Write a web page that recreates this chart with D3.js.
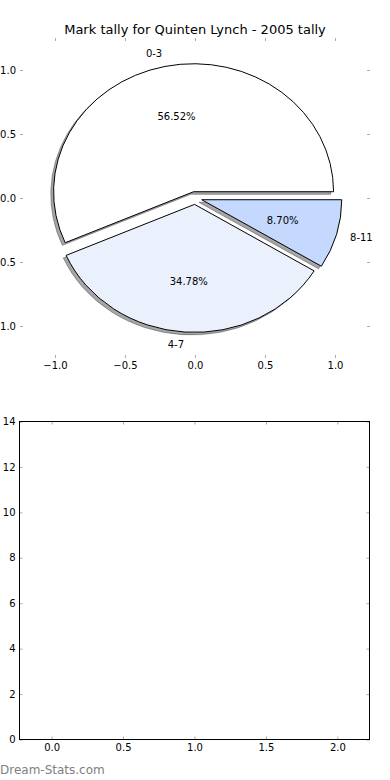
<!DOCTYPE html>
<html>
<head>
<meta charset="utf-8">
<script src="https://cdn.jsdelivr.net/npm/d3@7"></script>
<style>
  body { margin: 0; background: #fff; }
  svg { display: block; font-family: "DejaVu Sans", sans-serif; }
</style>
</head>
<body>
<div class="chart"></div>
<script>
// Data
var categories = ["0-3", "4-7", "8-11"];
var counts = [13, 8, 2];
var sliceColors = ["#ffffff", "#eaf0fc", "#c5d8fd"];
var pieTicks = [-1.0, -0.5, 0.0, 0.5, 1.0];
var barXTicks = [0.0, 0.5, 1.0, 1.5, 2.0];
var barYTicks = [0, 2, 4, 6, 8, 10, 12, 14];
var title = "Mark tally for Quinten Lynch - 2005 tally";

var width = 390, height = 780;
var explode = 0.05, shadowOff = -0.02;

var svg = d3.select(".chart").append("svg")
    .attr("width", width)
    .attr("height", height);

// ---- top: pie ----
var xTop = d3.scaleLinear().domain([-1.25, 1.25]).range([20, 370]);
var yTop = d3.scaleLinear().domain([-1.25, 1.25]).range([358, 38]);
var rx = xTop(1) - xTop(0), ry = yTop(0) - yTop(1);

svg.append("text")
   .attr("x", 195).attr("y", 34)
   .attr("text-anchor", "middle")
   .style("font-size", "13px")
   .text(title);

// counter-clockwise from 3 o'clock, like matplotlib
var pie = d3.pie().sort(null)
    .startAngle(Math.PI / 2)
    .endAngle(Math.PI / 2 - 2 * Math.PI);
var slices = pie(counts);
var total = d3.sum(counts);

var arc = d3.arc().innerRadius(0).outerRadius(rx);

function mid(d) { return (d.startAngle + d.endAngle) / 2; }
function ux(d) { return Math.sin(mid(d)); }
function uy(d) { return Math.cos(mid(d)); }

var pieG = svg.append("g");

// shadows
pieG.selectAll("path.shadow")
  .data(slices)
  .enter().append("path")
  .attr("class", "shadow")
  .attr("d", arc)
  .attr("transform", function(d) {
    return "translate(" + xTop(explode * ux(d) + shadowOff) + "," + yTop(explode * uy(d) + shadowOff) + ") scale(1," + (ry / rx) + ")";
  })
  .attr("fill", "rgb(77,77,77)")
  .attr("fill-opacity", 0.5)
  .attr("stroke", "rgb(77,77,77)")
  .attr("stroke-opacity", 0.5)
  .attr("stroke-width", 1)
  .attr("vector-effect", "non-scaling-stroke");

// wedges
pieG.selectAll("path.wedge")
  .data(slices)
  .enter().append("path")
  .attr("class", "wedge")
  .attr("d", arc)
  .attr("transform", function(d) {
    return "translate(" + xTop(explode * ux(d)) + "," + yTop(explode * uy(d)) + ") scale(1," + (ry / rx) + ")";
  })
  .attr("fill", function(d, i) { return sliceColors[i]; })
  .attr("stroke", "#000")
  .attr("stroke-width", 1)
  .attr("stroke-linejoin", "round")
  .attr("vector-effect", "non-scaling-stroke");

// labels
pieG.selectAll("text.lab")
  .data(slices)
  .enter().append("text")
  .attr("class", "lab")
  .attr("x", function(d) { return xTop((explode + 1.1) * ux(d)); })
  .attr("y", function(d) { return yTop((explode + 1.1) * uy(d)); })
  .attr("dy", "0.36em")
  .attr("text-anchor", function(d) { return ux(d) > 0 ? "start" : "end"; })
  .style("font-size", "10px")
  .text(function(d, i) { return categories[i]; });

pieG.selectAll("text.pct")
  .data(slices)
  .enter().append("text")
  .attr("class", "pct")
  .attr("x", function(d) { return xTop((explode + 0.6) * ux(d)); })
  .attr("y", function(d) { return yTop((explode + 0.6) * uy(d)); })
  .attr("dy", "0.36em")
  .attr("text-anchor", "middle")
  .style("font-size", "10px")
  .text(function(d) { return (100 * d.value / total).toFixed(2) + "%"; });

// axes for the pie (no frame, inward ticks)
function styleAxis(g, labels) {
  g.select(".domain").remove();
  g.selectAll(".tick line").attr("stroke", "#aaa");
  g.selectAll(".tick text").style("font-size", "10px").attr("fill", "#000")
    .style("font-family", "DejaVu Sans, sans-serif");
  if (!labels) g.selectAll(".tick text").remove();
}
var fmt = d3.format(".1f");
svg.append("g").attr("transform", "translate(0,358)")
  .call(d3.axisBottom(xTop).tickValues(pieTicks).tickFormat(fmt).tickSize(-3).tickPadding(4))
  .call(styleAxis, true);
svg.append("g").attr("transform", "translate(0,38)")
  .call(d3.axisTop(xTop).tickValues(pieTicks).tickSize(-3))
  .call(styleAxis, false);
svg.append("g").attr("transform", "translate(20,0)")
  .call(d3.axisLeft(yTop).tickValues(pieTicks).tickFormat(fmt).tickSize(-3).tickPadding(4))
  .call(styleAxis, true);
svg.append("g").attr("transform", "translate(370,0)")
  .call(d3.axisRight(yTop).tickValues(pieTicks).tickSize(-3))
  .call(styleAxis, false);

// ---- bottom: empty bar axes ----
var xBot = d3.scaleLinear().domain([-0.225, 2.225]).range([19.5, 369.5]);
var yBot = d3.scaleLinear().domain([0, 14]).range([739.5, 421.5]);

svg.append("g").attr("transform", "translate(0,739.5)")
  .call(d3.axisBottom(xBot).tickValues(barXTicks).tickFormat(fmt).tickSize(-3).tickPadding(4))
  .call(styleAxis, true);
svg.append("g").attr("transform", "translate(0,421.5)")
  .call(d3.axisTop(xBot).tickValues(barXTicks).tickSize(-3))
  .call(styleAxis, false);
svg.append("g").attr("transform", "translate(19.5,0)")
  .call(d3.axisLeft(yBot).tickValues(barYTicks).tickFormat(d3.format("d")).tickSize(-3).tickPadding(4))
  .call(styleAxis, true);
svg.append("g").attr("transform", "translate(369.5,0)")
  .call(d3.axisRight(yBot).tickValues(barYTicks).tickSize(-3))
  .call(styleAxis, false);

svg.append("rect")
  .attr("x", xBot.range()[0]).attr("y", yBot.range()[1])
  .attr("width", xBot.range()[1] - xBot.range()[0])
  .attr("height", yBot.range()[0] - yBot.range()[1])
  .attr("fill", "none")
  .attr("stroke", "#000")
  .attr("stroke-width", 1);

// watermark
svg.append("text")
  .attr("x", 0).attr("y", 774)
  .attr("fill", "#808080")
  .style("font-size", "12px")
  .text("Dream-Stats.com");
</script>
</body>
</html>
